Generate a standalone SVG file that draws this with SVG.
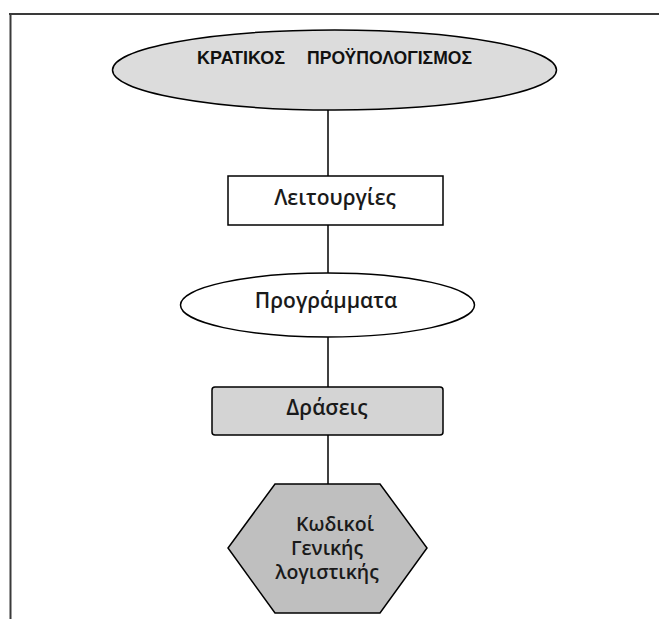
<svg xmlns="http://www.w3.org/2000/svg" width="659" height="619" viewBox="0 0 659 619">
  <style>
    .shape { stroke: #000; stroke-width: 1.5; }
    .link { stroke: #000; stroke-width: 1.5; fill: none; }
    .frame { stroke: #3a3a3a; stroke-width: 2; fill: none; }
    .label { font-family: "Open Sans", "Noto Sans", sans-serif; font-weight: 600; font-size: 21px; fill: #1a1a1a; text-anchor: middle; }
    .hex-label { font-size: 19.5px; }
    .title { font-family: "Liberation Sans", Arial, sans-serif; font-weight: bold; font-size: 17.5px; fill: #111; }
  </style>
  <rect x="0" y="0" width="659" height="619" fill="#ffffff"/>

  <!-- page frame: top rule and left rule -->
  <path class="frame" d="M9,14 H659 M10.5,14 V619"/>

  <!-- vertical connectors between the levels -->
  <g id="connectors">
    <line class="link" x1="328" y1="110" x2="328" y2="176"/>
    <line class="link" x1="328" y1="225" x2="328" y2="273"/>
    <line class="link" x1="328" y1="337" x2="328" y2="387"/>
    <line class="link" x1="328" y1="435" x2="328" y2="484"/>
  </g>

  <g id="budget">
    <ellipse class="shape" cx="334.5" cy="70" rx="222" ry="40" fill="#dcdcdc"/>
    <text class="title" x="197" y="64" textLength="88" lengthAdjust="spacingAndGlyphs">ΚΡΑΤΙΚΟΣ</text>
    <text class="title" x="307" y="64" textLength="165" lengthAdjust="spacingAndGlyphs">ΠΡΟΫΠΟΛΟΓΙΣΜΟΣ</text>
  </g>

  <g id="functions">
    <rect class="shape" x="228" y="176" width="215" height="49" fill="#ffffff"/>
    <text class="label" x="335" y="205">Λειτουργίες</text>
  </g>

  <g id="programmes">
    <ellipse class="shape" cx="327.5" cy="305" rx="147" ry="32" fill="#ffffff"/>
    <text class="label" x="326" y="308">Προγράμματα</text>
  </g>

  <g id="actions">
    <rect class="shape" x="212" y="387" width="231" height="48" rx="3" fill="#d4d4d4"/>
    <text class="label" x="327" y="415">Δράσεις</text>
  </g>

  <g id="ledger-codes">
    <polygon class="shape" points="275,484 380,484 427,548 380,613 275,613 228,548" fill="#bfbfbf"/>
    <text class="label hex-label" x="335" y="531">Κωδικοί</text>
    <text class="label hex-label" x="327" y="555">Γενικής</text>
    <text class="label hex-label" x="327" y="579">λογιστικής</text>
  </g>
</svg>
